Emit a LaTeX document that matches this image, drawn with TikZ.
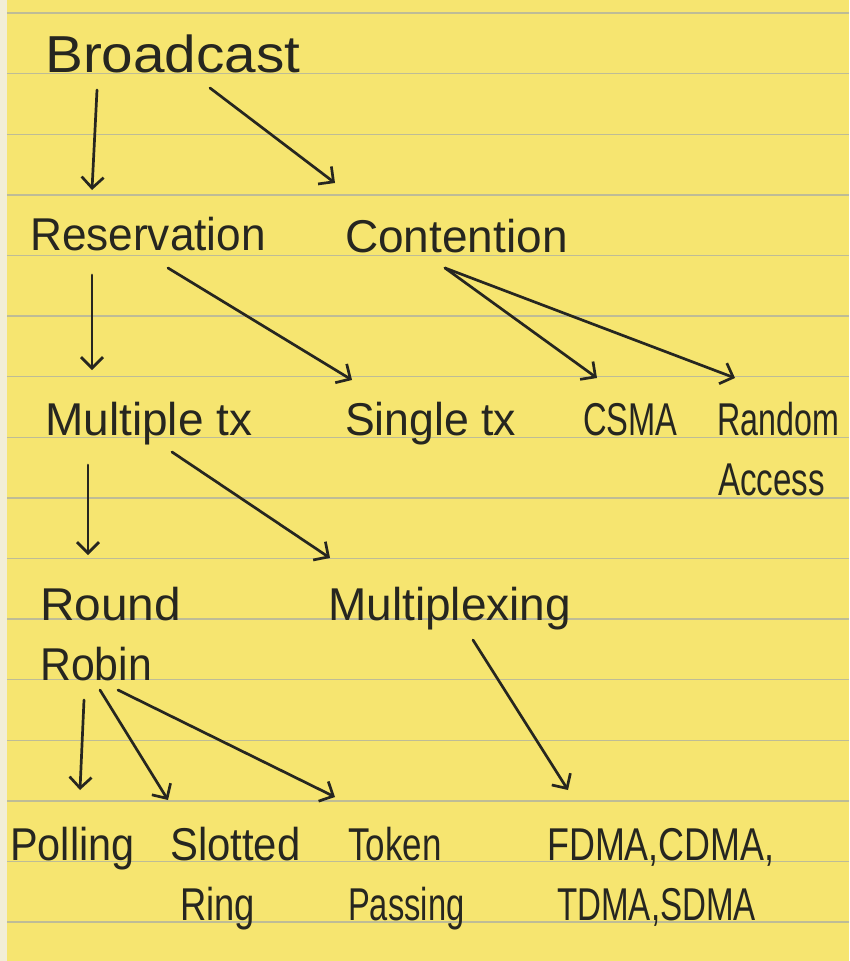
\documentclass[tikz,border=0pt]{standalone}
\usepackage{fontspec}
\setmainfont{Liberation Sans}
\usetikzlibrary{arrows.meta}
\definecolor{paper}{RGB}{246,229,112}
\definecolor{margin}{RGB}{242,238,214}
\definecolor{ruling}{RGB}{190,188,150}
\definecolor{ink}{RGB}{38,38,32}
% horizontal squeeze for handwritten-width words
\newcommand\hsx[2]{\scalebox{#1}[1]{#2}}
\begin{document}
\begin{tikzpicture}[x=1pt,y=-1pt,
  lbl/.style={anchor=base west,inner sep=0pt,text=ink,font=\fontsize{46}{55}\selectfont},
  big/.style={lbl,font=\fontsize{52}{60}\selectfont},
  arr/.style={draw=ink,line width=2.7pt,line cap=round,line join=round,
    -{Straight Barb[length=11pt,width=22pt,line width=2.7pt]}}]
\useasboundingbox (0,0) rectangle (849,961);
% legal-pad paper
\fill[margin] (0,0) rectangle (7,961);
\fill[paper] (7,0) rectangle (849,961);
\foreach \k in {0,...,15}
  \draw[ruling,line width=1.4pt] (7,13+60.6*\k) -- (849,13+60.6*\k);

% words
\node[big] (bc)   at (45,72)   {\hsx{1.09}{Broadcast}};
\node[lbl] (res)  at (30,250)  {\hsx{0.96}{Reservation}};
\node[lbl] (con)  at (345,252) {Contention};
\node[lbl] (mtx)  at (45,435)  {Multiple tx};
\node[lbl] (stx)  at (345,435) {\hsx{0.97}{Single tx}};
\node[lbl] (csma) at (583,435) {\hsx{0.71}{CSMA}};
\node[lbl] (rnd)  at (717,435) {\hsx{0.70}{Random}};
\node[lbl] (acc)  at (718,495) {\hsx{0.72}{Access}};
\node[lbl] (rnd1) at (40,620)  {\hsx{1.04}{Round}};
\node[lbl] (rob)  at (40,680)  {\hsx{0.93}{Robin}};
\node[lbl] (mux)  at (328,620) {Multiplexing};
\node[lbl] (poll) at (10,860)  {\hsx{0.9}{Polling}};
\node[lbl] (slot) at (170,860) {\hsx{0.91}{Slotted}};
\node[lbl] (ring) at (180,920) {\hsx{0.79}{Ring}};
\node[lbl] (tok)  at (348,860) {\hsx{0.76}{Token}};
\node[lbl] (pas)  at (348,920) {\hsx{0.71}{Passing}};
\node[lbl] (fdma) at (547,860) {\hsx{0.78}{FDMA,CDMA,}};
\node[lbl] (tdma) at (557,920) {\hsx{0.72}{TDMA,SDMA}};

% arrows
\draw[arr] ([shift={(52,18)}]bc.base west)   -- ([shift={(62,-60)}]res.base west);
\draw[arr] ([shift={(165,16)}]bc.base west)  -- ([shift={(-10,-69)}]con.base west);
\draw[arr] ([shift={(62,25)}]res.base west)  -- ([shift={(47,-65)}]mtx.base west);
\draw[arr] ([shift={(138,18)}]res.base west) -- ([shift={(7,-55)}]stx.base west);
\draw[arr] ([shift={(100,16)}]con.base west) -- ([shift={(14,-57)}]csma.base west);
\draw[arr] ([shift={(100,16)}]con.base west) -- ([shift={(18,-57)}]rnd.base west);
\draw[arr] ([shift={(43,30)}]mtx.base west)  -- ([shift={(48,-65)}]rnd1.base west);
\draw[arr] ([shift={(127,17)}]mtx.base west) -- ([shift={(2,-62)}]mux.base west);
\draw[arr] ([shift={(145,20)}]mux.base west) -- ([shift={(21,-70)}]fdma.base west);
\draw[arr] ([shift={(44,20)}]rob.base west)  -- ([shift={(70,-70)}]poll.base west);
\draw[arr] ([shift={(60,10)}]rob.base west)  -- ([shift={(-2,-60)}]slot.base west);
\draw[arr] ([shift={(78,10)}]rob.base west)  -- ([shift={(-13,-63)}]tok.base west);
\end{tikzpicture}
\end{document}
